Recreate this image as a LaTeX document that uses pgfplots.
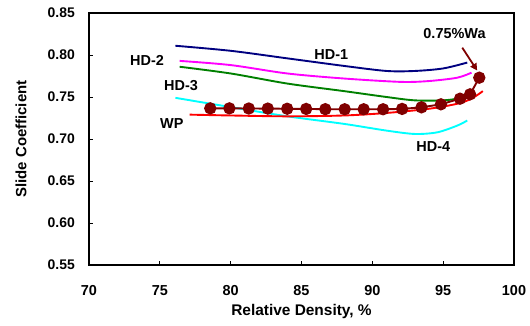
\documentclass[border=0pt]{standalone}
\usepackage{pgfplots}
\pgfplotsset{compat=1.18}
\usepackage{fontspec}
\setmainfont{Liberation Sans}
\usetikzlibrary{arrows.meta}
\definecolor{hdone}{RGB}{0,0,128}
\definecolor{hdtwo}{RGB}{255,0,255}
\definecolor{hdthree}{RGB}{0,128,0}
\definecolor{hdfour}{RGB}{0,255,255}
\definecolor{wp}{RGB}{255,0,0}
\definecolor{wa}{RGB}{128,0,0}
\begin{document}
\begin{tikzpicture}
\path[use as bounding box] (-89bp,-61bp) rectangle (441bp,265bp);
\begin{axis}[
  at={(0,0)}, anchor=south west,
  width=425bp, height=252bp, scale only axis,
  xmin=70, xmax=100, ymin=0.55, ymax=0.85,
  xtick={70,75,...,100},
  ytick={0.55,0.60,...,0.86},
  axis line style={line width=1.5pt},
  tick align=inside, major tick length=4bp,
  xtick pos=bottom, ytick pos=left,
  tick style={black, line width=0.8pt},
  xticklabel={\pgfmathprintnumber{\tick}},
  yticklabel={\pgfmathprintnumber[fixed,fixed zerofill,precision=2]{\tick}},
  /pgf/number format/assume math mode=true,
  yticklabel style={font=\bfseries\fontsize{14}{14}\selectfont, anchor=east, inner sep=0pt, xshift=-14bp},
  xticklabel style={font=\bfseries\fontsize{14.5}{15}\selectfont, anchor=center, inner sep=0pt, yshift=-25.5bp},
  xlabel={Relative Density, \%},
  ylabel={Slide Coefficient},
  xlabel style={font=\bfseries\fontsize{15.5}{16}\selectfont, at={(axis description cs:0.5,0)}, anchor=center, inner sep=0pt, yshift=-47bp},
  ylabel style={font=\bfseries\fontsize{15}{16}\selectfont, at={(axis description cs:0,0.5)}, anchor=center, inner sep=0pt, yshift=68bp},
  clip=false,
]
\addplot[hdone, line width=1.9pt, smooth, no marks] coordinates {
(76.1,0.811) (80,0.805) (84,0.796) (88,0.787) (91,0.781) (93,0.781) (95,0.784) (96.7,0.791)};
\addplot[hdtwo, line width=1.9pt, smooth, no marks] coordinates {
(76.4,0.793) (80,0.788) (84,0.778) (88,0.772) (92,0.768) (94,0.769) (96,0.773) (97,0.779)};
\addplot[hdthree, line width=1.9pt, smooth, no marks] coordinates {
(76.4,0.786) (80,0.778) (84,0.766) (88,0.757) (91,0.750) (93,0.746) (95,0.746) (96,0.748)};
\addplot[hdfour, line width=1.9pt, smooth, no marks] coordinates {
(76.1,0.749) (80,0.738) (84,0.727) (88,0.718) (91,0.710) (93,0.706) (94.6,0.708) (96,0.716) (96.7,0.722)};
\addplot[wp, line width=1.9pt, smooth, no marks] coordinates {
(77.1,0.729) (80,0.728) (84,0.727) (88,0.728) (91,0.731) (94,0.736) (96,0.742) (97,0.748) (97.8,0.757)};
\addplot[wa, line width=1.9pt, mark=*, mark size=5.2bp, mark options={fill=wa, draw=wa}] coordinates {
(78.56,0.7365) (79.91,0.7365) (81.28,0.7363) (82.62,0.7362) (83.99,0.7360) (85.33,0.7358) (86.68,0.7355) (88.05,0.7354) (89.39,0.7354) (90.76,0.7354) (92.10,0.7358) (93.47,0.7377) (94.84,0.7413) (96.19,0.748) (96.90,0.7532) (97.55,0.773)};
\draw[wa, line width=1.8pt, -{Triangle[length=7bp,width=7bp]}] (axis cs:96.35,0.8087) -- (axis cs:97.4,0.7815);
\node[font=\bfseries\fontsize{14.5}{15}\selectfont] at (axis cs:95.8,0.825) {0.75\%Wa};
\node[font=\bfseries\fontsize{14.5}{15}\selectfont] at (axis cs:87.1,0.801) {HD-1};
\node[font=\bfseries\fontsize{14.5}{15}\selectfont] at (axis cs:74.1,0.793) {HD-2};
\node[font=\bfseries\fontsize{14.5}{15}\selectfont] at (axis cs:76.5,0.764) {HD-3};
\node[font=\bfseries\fontsize{14.5}{15}\selectfont] at (axis cs:75.85,0.719) {WP};
\node[font=\bfseries\fontsize{14.5}{15}\selectfont] at (axis cs:94.3,0.691) {HD-4};
\end{axis}
\end{tikzpicture}
\end{document}
